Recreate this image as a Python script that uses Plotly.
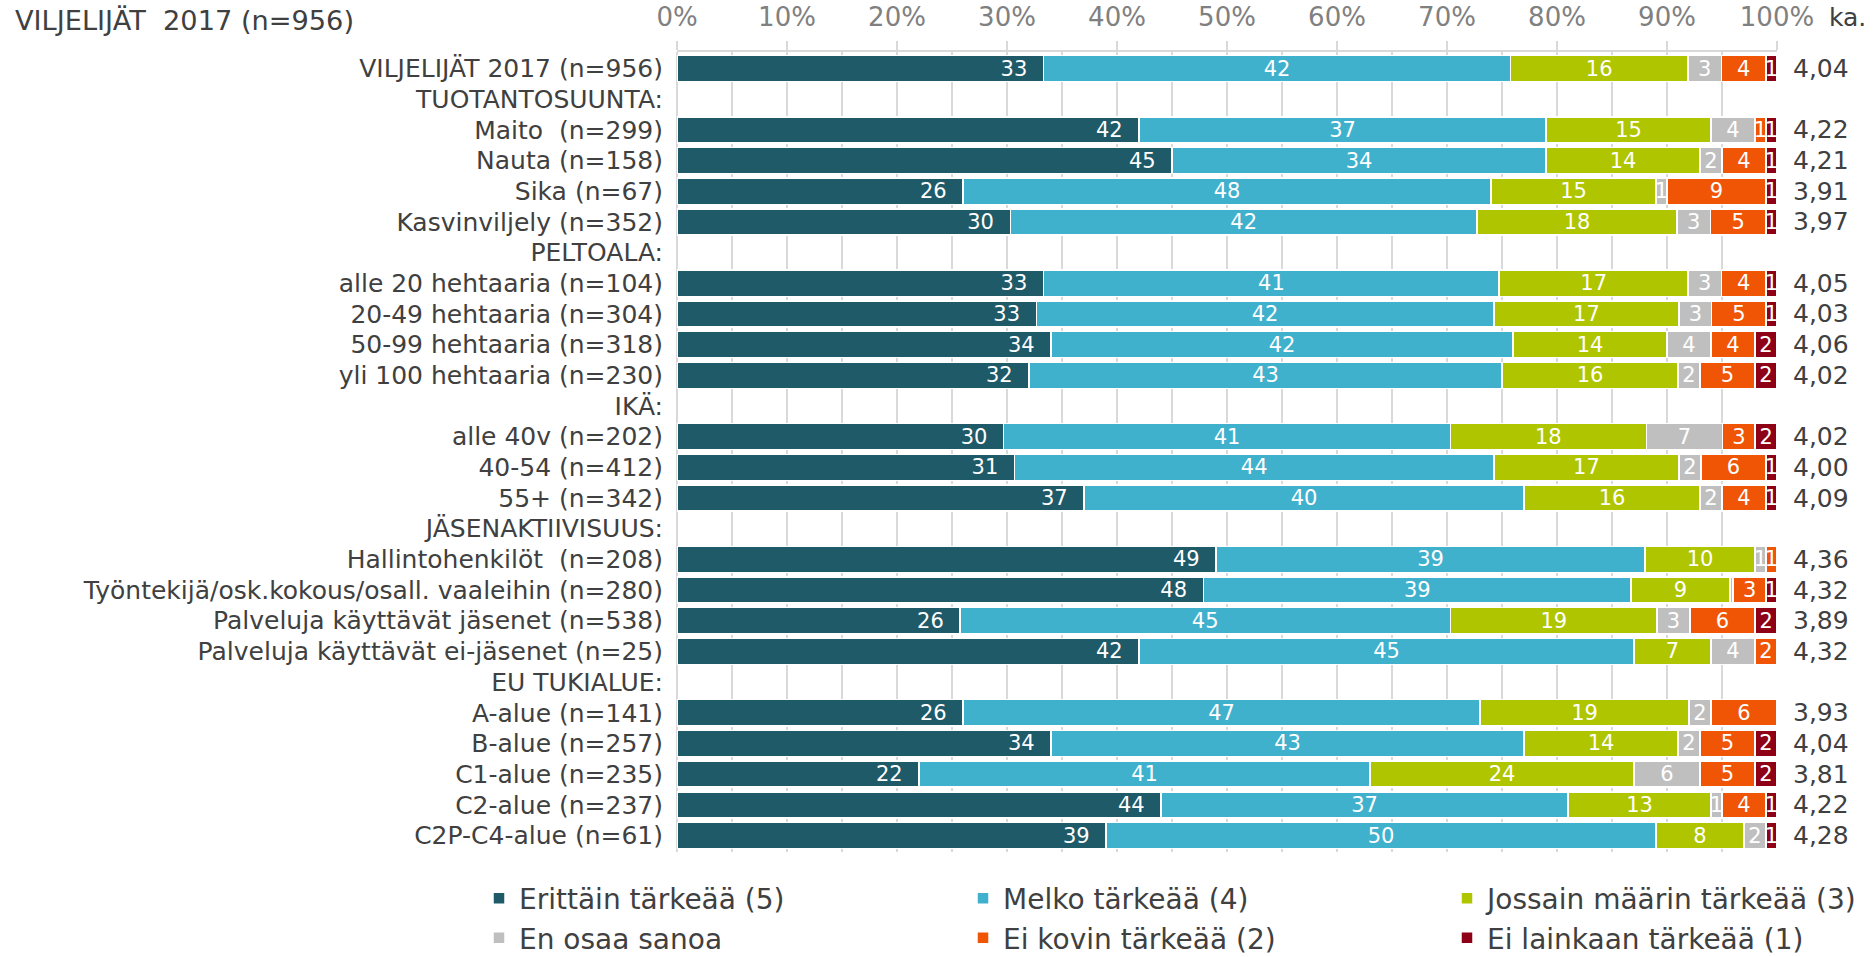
import plotly.graph_objects as go

# Survey groups, top to bottom (header rows carry no bars)
categories = [
    "VILJELIJÄT 2017 (n=956)",
    "TUOTANTOSUUNTA:",
    "Maito\u00a0 (n=299)",
    "Nauta (n=158)",
    "Sika (n=67)",
    "Kasvinviljely (n=352)",
    "PELTOALA:",
    "alle 20 hehtaaria (n=104)",
    "20-49 hehtaaria (n=304)",
    "50-99 hehtaaria (n=318)",
    "yli 100 hehtaaria (n=230)",
    "IKÄ:",
    "alle 40v (n=202)",
    "40-54 (n=412)",
    "55+ (n=342)",
    "JÄSENAKTIIVISUUS:",
    "Hallintohenkilöt\u00a0 (n=208)",
    "Työntekijä/osk.kokous/osall. vaaleihin (n=280)",
    "Palveluja käyttävät jäsenet (n=538)",
    "Palveluja käyttävät ei-jäsenet (n=25)",
    "EU TUKIALUE:",
    "A-alue (n=141)",
    "B-alue (n=257)",
    "C1-alue (n=235)",
    "C2-alue (n=237)",
    "C2P-C4-alue (n=61)",
]

# Answer shares (%) per group
erittain = [33, None, 42, 45, 26, 30, None, 33, 33, 34, 32, None, 30, 31, 37, None, 49, 48, 26, 42, None, 26, 34, 22, 44, 39]
melko = [42, None, 37, 34, 48, 42, None, 41, 42, 42, 43, None, 41, 44, 40, None, 39, 39, 45, 45, None, 47, 43, 41, 37, 50]
jossain = [16, None, 15, 14, 15, 18, None, 17, 17, 14, 16, None, 18, 17, 16, None, 10, 9, 19, 7, None, 19, 14, 24, 13, 8]
en_osaa = [3, None, 4, 2, 1, 3, None, 3, 3, 4, 2, None, 7, 2, 2, None, 1, 0.3, 3, 4, None, 2, 2, 6, 1, 2]
ei_kovin = [4, None, 1, 4, 9, 5, None, 4, 5, 4, 5, None, 3, 6, 4, None, 1, 3, 6, 2, None, 6, 5, 5, 4, 0]
ei_lainkaan = [1, None, 1, 1, 1, 1, None, 1, 1, 2, 2, None, 2, 1, 1, None, 0, 1, 2, 0, None, 0, 2, 2, 1, 1]

# Mean score (ka.) per group
keskiarvo = [4.04, None, 4.22, 4.21, 3.91, 3.97, None, 4.05, 4.03, 4.06, 4.02, None, 4.02, 4.00, 4.09,
             None, 4.36, 4.32, 3.89, 4.32, None, 3.93, 4.04, 3.81, 4.22, 4.28]

series = [
    ("Erittäin tärkeää (5)", erittain, "#1F5A69", "end"),
    ("Melko tärkeää (4)", melko, "#40B1CD", "middle"),
    ("Jossain määrin tärkeää (3)", jossain, "#AFC500", "middle"),
    ("En osaa sanoa", en_osaa, "#BFBFBF", "middle"),
    ("Ei kovin tärkeää (2)", ei_kovin, "#F05405", "middle"),
    ("Ei lainkaan tärkeää (1)", ei_lainkaan, "#8E0016", "middle"),
]

FONT = "DejaVu Sans"
TXT = "#404040"
GRID = "#D9D9D9"


def label(v, pad=""):
    if v is None or v < 0.5:
        return ""
    return f"{v:.0f}" + pad


fig = go.Figure()
for name, vals, color, anchor in series:
    pad = "\u00a0\u00a0" if anchor == "end" else ""
    fig.add_trace(go.Bar(
        name=name,
        y=categories,
        x=vals,
        orientation="h",
        marker=dict(color=color, line=dict(color="white", width=1.5)),
        text=[label(v, pad) for v in vals],
        texttemplate="%{text}",
        textposition="inside",
        insidetextanchor=anchor,
        textangle=0,
        constraintext="none",
        textfont=dict(family=FONT, size=21, color="white"),
        hoverinfo="skip",
    ))

# Mean score column
for cat, v in zip(categories, keskiarvo):
    if v is None:
        continue
    fig.add_annotation(
        x=1.0125, y=cat, xref="paper", yref="y",
        text=f"{v:.2f}".replace(".", ","),
        showarrow=False, xanchor="left", yanchor="middle",
        font=dict(family=FONT, size=25, color=TXT),
    )

fig.add_annotation(
    x=1.0455, y=1.0, xref="paper", yref="paper", yshift=35,
    text="ka.", showarrow=False, xanchor="left", yanchor="middle",
    font=dict(family=FONT, size=25, color=TXT),
)

fig.add_annotation(
    x=-0.6035, y=1.0, xref="paper", yref="paper", yshift=32,
    text="VILJELIJÄT\u00a0 2017 (n=956)", showarrow=False, xanchor="left", yanchor="middle",
    font=dict(family=FONT, size=27.2, color=TXT),
)

fig.update_layout(
    width=1873, height=957,
    barmode="stack", barnorm="percent", bargap=0.15,
    margin=dict(l=677, r=96, t=52, b=105, autoexpand=False),
    paper_bgcolor="white", plot_bgcolor="white",
    font=dict(family=FONT, color=TXT),
    uniformtext=dict(minsize=21, mode="show"),
    legend=dict(
        orientation="h", x=-0.18, y=-0.027, xanchor="left", yanchor="top",
        entrywidth=439, entrywidthmode="pixels",
        font=dict(family=FONT, size=28, color=TXT),
        traceorder="normal", itemclick=False, itemdoubleclick=False,
    ),
    xaxis=dict(
        side="top", range=[0, 100], dtick=10, ticksuffix="%",
        tickfont=dict(family=FONT, size=26, color="#808080"),
        ticklabelstandoff=5,
        showgrid=True, gridcolor=GRID, gridwidth=1.5,
        minor=dict(dtick=5, showgrid=True, gridcolor=GRID, gridwidth=1.5),
        zeroline=True, zerolinecolor=GRID, zerolinewidth=1.5,
        showline=True, linecolor=GRID, linewidth=1.5,
        ticks="outside", ticklen=9, tickcolor=GRID, tickwidth=1.5,
        fixedrange=True,
    ),
    yaxis=dict(
        categoryorder="array", categoryarray=categories, autorange="reversed",
        tickmode="array", tickvals=categories, ticktext=categories,
        tickfont=dict(family=FONT, size=25, color=TXT),
        showgrid=False, zeroline=False, ticks="", ticklabelstandoff=13,
        fixedrange=True,
    ),
)

fig.write_html("out.html")
